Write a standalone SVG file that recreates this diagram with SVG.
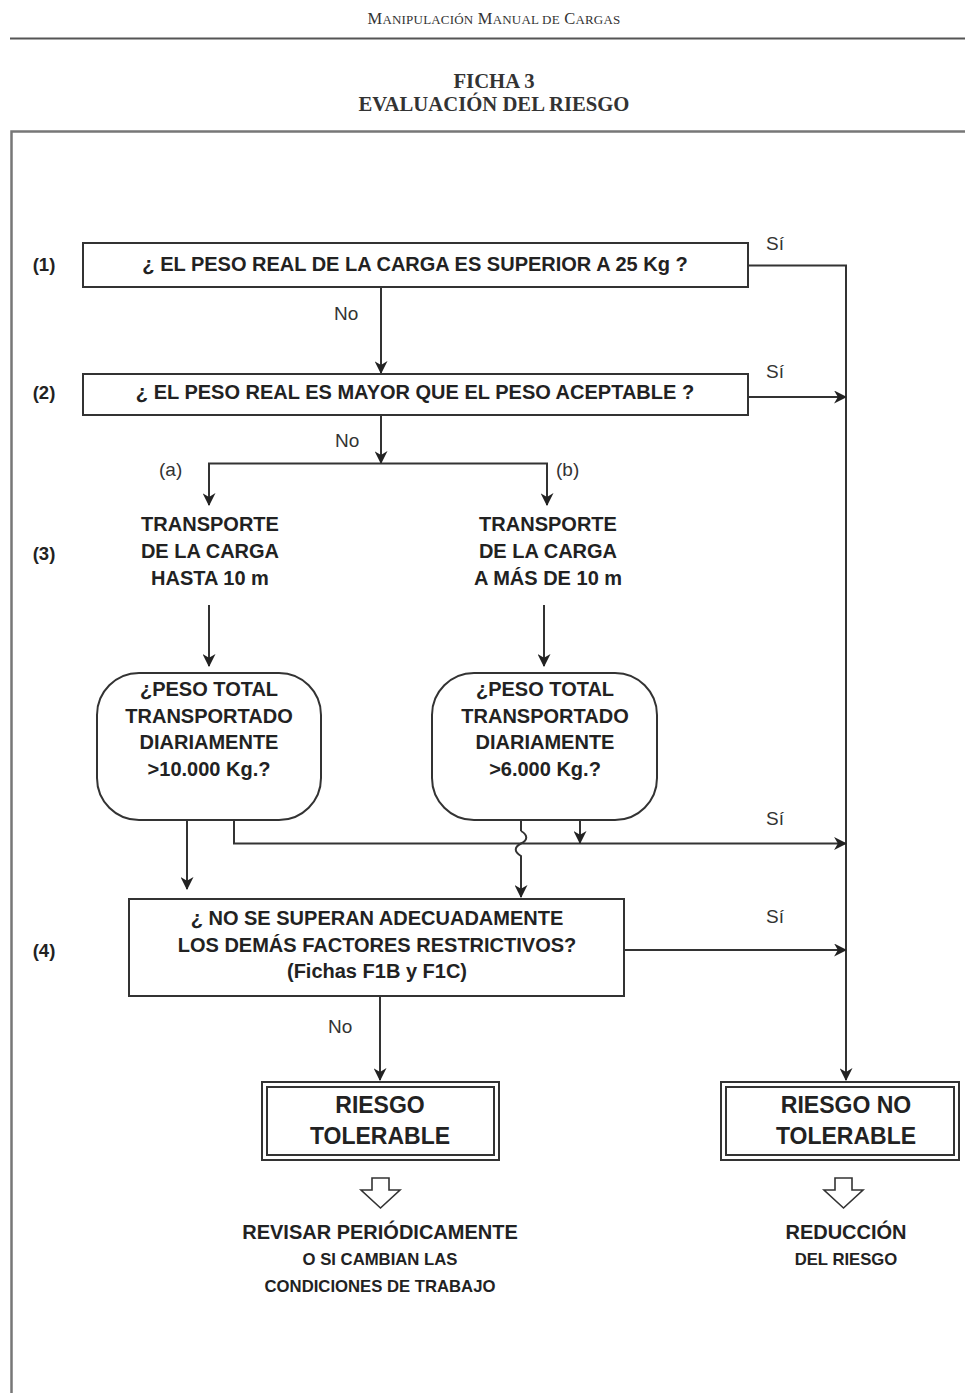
<svg xmlns="http://www.w3.org/2000/svg" width="965" height="1393" viewBox="0 0 965 1393">
  <defs>
    <marker id="arr" viewBox="0 0 12 12" refX="11" refY="6" markerWidth="13" markerHeight="13" markerUnits="userSpaceOnUse" orient="auto">
      <path d="M0,0 L12,6 L0,12 L3.5,6 z" fill="#222"/>
    </marker>
    <style>
      .hdr { font-family: "Liberation Serif", serif; fill: #333; }
      .t { font-family: "Liberation Sans", Arial, sans-serif; font-weight: bold; fill: #222; text-anchor: middle; }
      .lbl { font-family: "Liberation Sans", Arial, sans-serif; fill: #333; font-size: 19px; }
      .box { fill: #fff; stroke: #333; stroke-width: 2; }
      .ln { fill: none; stroke: #333; stroke-width: 2; }
      .frame { fill: none; stroke: #777; stroke-width: 2.5; }
      .hollow { fill: #fff; stroke: #333; stroke-width: 1.6; }
    </style>
  </defs>

  <rect width="965" height="1393" fill="#fff"/>

  <!-- page header -->
  <g id="header">
    <text class="hdr" x="494" y="24" text-anchor="middle" font-size="16.5" letter-spacing="0.2">M<tspan font-size="13">ANIPULACIÓN</tspan> M<tspan font-size="13">ANUAL DE</tspan> C<tspan font-size="13">ARGAS</tspan></text>
    <line x1="10" y1="38.5" x2="965" y2="38.5" stroke="#555" stroke-width="2"/>
    <text class="hdr" x="494" y="88" text-anchor="middle" font-size="20.7" font-weight="bold" fill="#222">FICHA 3</text>
    <text class="hdr" x="494" y="111" text-anchor="middle" font-size="20.7" font-weight="bold" fill="#222">EVALUACIÓN DEL RIESGO</text>
  </g>

  <!-- outer frame -->
  <path class="frame" d="M11.5,1393 V131.5 H965"/>

  <!-- step numbers -->
  <g id="steps" class="t" font-size="18.5">
    <text x="44" y="271">(1)</text>
    <text x="44" y="399">(2)</text>
    <text x="44" y="560">(3)</text>
    <text x="44" y="957">(4)</text>
  </g>

  <!-- connectors -->
  <g id="connectors">
    <path class="ln" d="M748,265.5 H846 V1080" marker-end="url(#arr)"/>
    <path class="ln" d="M381,287 V373" marker-end="url(#arr)"/>
    <path class="ln" d="M748,397 H846" marker-end="url(#arr)"/>
    <path class="ln" d="M381,415 V463" marker-end="url(#arr)"/>
    <path class="ln" d="M381,463.5 H209 V505" marker-end="url(#arr)"/>
    <path class="ln" d="M381,463.5 H547 V505" marker-end="url(#arr)"/>
    <path class="ln" d="M209,605 V666" marker-end="url(#arr)"/>
    <path class="ln" d="M544,605 V666" marker-end="url(#arr)"/>
    <path class="ln" d="M187,820 V889" marker-end="url(#arr)"/>
    <path class="ln" d="M234,820 V843.5 H846" marker-end="url(#arr)"/>
    <path class="ln" d="M580,792 V843" marker-end="url(#arr)"/>
    <!-- two-way link with an S-shaped hop over the horizontal line -->
    <path class="ln" d="M521,831 C528,835 528,840 521,843.5 C514,847 514,852 521,856 V897" marker-end="url(#arr)"/>
    <path class="ln" d="M521,831 V789" marker-end="url(#arr)"/>
    <path class="ln" d="M624,950 H846" marker-end="url(#arr)"/>
    <path class="ln" d="M380,996 V1080" marker-end="url(#arr)"/>
  </g>

  <!-- connector labels -->
  <g id="labels" class="lbl">
    <text x="766" y="250">Sí</text>
    <text x="334" y="320">No</text>
    <text x="766" y="378">Sí</text>
    <text x="335" y="447">No</text>
    <text x="159" y="476">(a)</text>
    <text x="556" y="476">(b)</text>
    <text x="139" y="815">No</text>
    <text x="477" y="815">No</text>
    <text x="586" y="820">Sí</text>
    <text x="766" y="825">Sí</text>
    <text x="766" y="923">Sí</text>
    <text x="328" y="1033">No</text>
  </g>

  <g id="q1">
    <rect class="box" x="83" y="243" width="665" height="44"/>
    <text class="t" x="415" y="271" font-size="20">¿ EL PESO REAL DE LA CARGA ES SUPERIOR A 25 Kg ?</text>
  </g>

  <g id="q2">
    <rect class="box" x="83" y="374" width="665" height="41"/>
    <text class="t" x="415" y="399" font-size="20">¿ EL PESO REAL ES MAYOR QUE EL PESO ACEPTABLE ?</text>
  </g>

  <g id="transport-a" class="t" font-size="20">
    <text x="210" y="531">TRANSPORTE</text>
    <text x="210" y="558">DE LA CARGA</text>
    <text x="210" y="585">HASTA 10 m</text>
  </g>

  <g id="transport-b" class="t" font-size="20">
    <text x="548" y="531">TRANSPORTE</text>
    <text x="548" y="558">DE LA CARGA</text>
    <text x="548" y="585">A MÁS DE 10 m</text>
  </g>

  <g id="total-a">
    <rect class="box" x="97" y="673" width="224" height="147" rx="42" ry="42"/>
    <g class="t" font-size="20">
      <text x="209" y="696">¿PESO TOTAL</text>
      <text x="209" y="723">TRANSPORTADO</text>
      <text x="209" y="749">DIARIAMENTE</text>
      <text x="209" y="776">&gt;10.000 Kg.?</text>
    </g>
  </g>

  <g id="total-b">
    <rect class="box" x="432" y="673" width="225" height="147" rx="42" ry="42"/>
    <g class="t" font-size="20">
      <text x="545" y="696">¿PESO TOTAL</text>
      <text x="545" y="723">TRANSPORTADO</text>
      <text x="545" y="749">DIARIAMENTE</text>
      <text x="545" y="776">&gt;6.000 Kg.?</text>
    </g>
  </g>

  <g id="q4">
    <rect class="box" x="129" y="899" width="495" height="97"/>
    <g class="t" font-size="20">
      <text x="377" y="925">¿ NO SE SUPERAN ADECUADAMENTE</text>
      <text x="377" y="952">LOS DEMÁS FACTORES RESTRICTIVOS?</text>
      <text x="377" y="978">(Fichas F1B y F1C)</text>
    </g>
  </g>

  <g id="tolerable">
    <rect class="box" x="262" y="1082" width="237" height="78"/>
    <rect class="box" x="267" y="1087" width="227" height="68" stroke-width="1.5"/>
    <g class="t" font-size="23">
      <text x="380" y="1113">RIESGO</text>
      <text x="380" y="1144">TOLERABLE</text>
    </g>
  </g>

  <g id="no-tolerable">
    <rect class="box" x="721" y="1082" width="238" height="78"/>
    <rect class="box" x="726" y="1087" width="228" height="68" stroke-width="1.5"/>
    <g class="t" font-size="23">
      <text x="846" y="1113">RIESGO NO</text>
      <text x="846" y="1144">TOLERABLE</text>
    </g>
  </g>

  <g id="review">
    <path class="hollow" d="M372,1178 H389 V1190 H400 L380.5,1208 L361,1190 H372 Z"/>
    <g class="t">
      <text x="380" y="1239" font-size="20">REVISAR PERIÓDICAMENTE</text>
      <text x="380" y="1265" font-size="16.7">O SI CAMBIAN LAS</text>
      <text x="380" y="1292" font-size="16.7">CONDICIONES DE TRABAJO</text>
    </g>
  </g>

  <g id="reduce">
    <path class="hollow" d="M835,1178 H852 V1190 H863 L843.5,1208 L824,1190 H835 Z"/>
    <g class="t">
      <text x="846" y="1239" font-size="20">REDUCCIÓN</text>
      <text x="846" y="1265" font-size="16.7">DEL RIESGO</text>
    </g>
  </g>
</svg>
